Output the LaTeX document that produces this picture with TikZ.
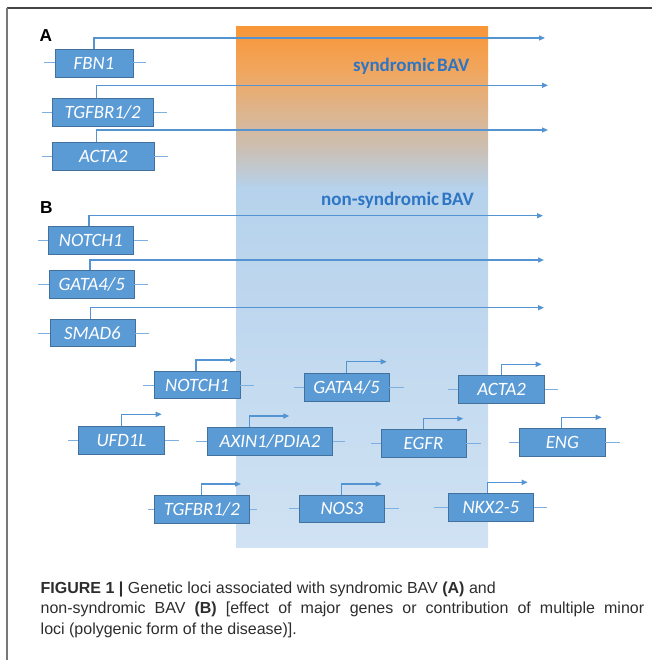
\documentclass[tikz,border=0pt]{standalone}
\usepackage{fontspec}
\setmainfont{Liberation Sans}
\newfontfamily\calibri{Carlito}
\usetikzlibrary{arrows.meta}
\definecolor{boxfill}{RGB}{91,155,213}
\definecolor{boxdraw}{RGB}{65,113,156}
\definecolor{linec}{RGB}{84,148,210}
\definecolor{stubc}{RGB}{125,175,225}
\definecolor{orangec}{RGB}{248,150,56}
\definecolor{grad1}{RGB}{241,166,94}
\definecolor{grad2}{RGB}{222,180,140}
\definecolor{grad3}{RGB}{202,192,182}
\definecolor{bluec}{RGB}{182,210,236}
\definecolor{bluel}{RGB}{208,226,243}
\definecolor{labelc}{RGB}{46,117,196}
\definecolor{capc}{RGB}{45,45,45}
\definecolor{framec}{RGB}{68,68,68}
\definecolor{framel}{RGB}{120,120,120}
\begin{document}
\begin{tikzpicture}[x=1pt,y=-1pt,
  genebox/.style={draw=boxdraw, line width=0.9pt, fill=boxfill, text=white, inner sep=0pt,
    font=\calibri\itshape\fontsize{18.8}{20}\selectfont},
  arr/.style={draw=linec, line width=1.3pt, -{Triangle[length=6pt,width=5pt]}},
  stub/.style={draw=stubc, line width=1pt},
  zone/.style={text=labelc, inner sep=0pt, anchor=base west,
    font=\calibri\bfseries\fontsize{19}{20}\selectfont},
  panel/.style={inner sep=0pt, anchor=base west, font=\bfseries\fontsize{17.3}{20}\selectfont},
  captext/.style={inner sep=0pt, anchor=base west, text=capc, font=\fontsize{16}{20}\selectfont}]
\useasboundingbox (0,0) rectangle (652,660);
% frame
\draw[framec, line width=2pt] (7,8.5) -- (652,8.5);
\draw[framel, line width=1.5pt] (7,8.5) -- (7,660);
% background zones
\shade[top color=orangec, bottom color=grad1] (236,27) rectangle (488,70.5);
\shade[top color=grad1, bottom color=grad2] (236,70) rectangle (488,110.5);
\shade[top color=grad2, bottom color=grad3] (236,110) rectangle (488,150.5);
\shade[top color=grad3, bottom color=bluec] (236,150) rectangle (488,188.5);
\shade[top color=bluec, bottom color=bluel] (236,188) rectangle (488,547);
\node[zone] (zs) at (353,71.7) {syndromic\hspace{2.5pt}BAV};
\node[zone] (zn) at (321,205) {non-syndromic\hspace{2.5pt}BAV};
\node[panel] (pa) at (39.5,41.7) {A};
\node[panel] (pb) at (40,213.3) {B};
% genes
\foreach \n/\t/\xl/\yt/\xr/\yb/\px/\py/\tx/\sl/\sr in {
  a1/FBN1/55/49/133/77/94/38/545/11/13,
  a2/{TGFBR1/2}/52/98.3/153.3/126/96.7/85.3/548/10/13.5,
  a3/ACTA2/52.7/142.3/154/170/96.7/130/548/10.5/14,
  b1/NOTCH1/48.3/226.7/133.3/254.3/89/215.7/543/10/14.4,
  b2/{GATA4/5}/49.3/270.7/134/298.7/90/260/544/11/13.7,
  b3/SMAD6/50/319.3/135/346.7/90.7/307.7/544/11.7/13.3,
  c1/NOTCH1/154.3/371.7/240/398.7/196/360/236/11/13.3,
  c2/{GATA4/5}/304/373.3/389/401/346.7/361.7/386.7/10/15,
  c3/ACTA2/458.7/375.7/544.7/403.3/501.7/364.3/541.7/10.4/13,
  c4/UFD1L/78.3/426/164.6/454.3/121.7/414.3/161.7/9.6/14.4,
  c5/{AXIN1/PDIA2}/207.7/427.7/332.3/455.7/249.3/416/289.3/11/12,
  c6/EGFR/381/429.3/466/457.3/423.3/418.7/463.3/10/14.7,
  c7/ENG/519.7/428.7/605/456.7/561.7/417.3/601.7/10.4/14.3,
  c8/{TGFBR1/2}/154.3/495/249.3/523/201.7/484/241/6/7.4,
  c9/NOS3/299.3/495/384.3/522.3/341.7/484/381.7/10/14,
  c10/NKX2-5/448.3/493.7/533.3/521.7/487.3/482.3/527.7/14/13.4}{
  \node[genebox, minimum width={\xr-\xl}, minimum height={\yb-\yt}]
     (\n) at ({(\xl+\xr)/2},{(\yt+\yb)/2}) {\t};
  \coordinate (\n-p) at (\px,\py);
  \coordinate (\n-t) at (\tx,\py);
  \draw[stub] (\n.west) -- ++(-\sl,0);
  \draw[stub] (\n.east) -- ++(\sr,0);
  \draw[arr] (\n.north -| \n-p) -- (\n-p) -- (\n-t);
}
% caption
\node[captext] (cap1) at (40.5,593.3) {\textbf{FIGURE 1 |} Genetic loci associated with syndromic BAV \textbf{(A)} and};
\node[captext] (cap2) at (40.5,613.5) {\makebox[603.5pt][s]{non-syndromic BAV \textbf{(B)} [effect of major genes or contribution of multiple minor}};
\node[captext] (cap3) at (40.5,634) {loci (polygenic form of the disease)].};
\end{tikzpicture}
\end{document}
